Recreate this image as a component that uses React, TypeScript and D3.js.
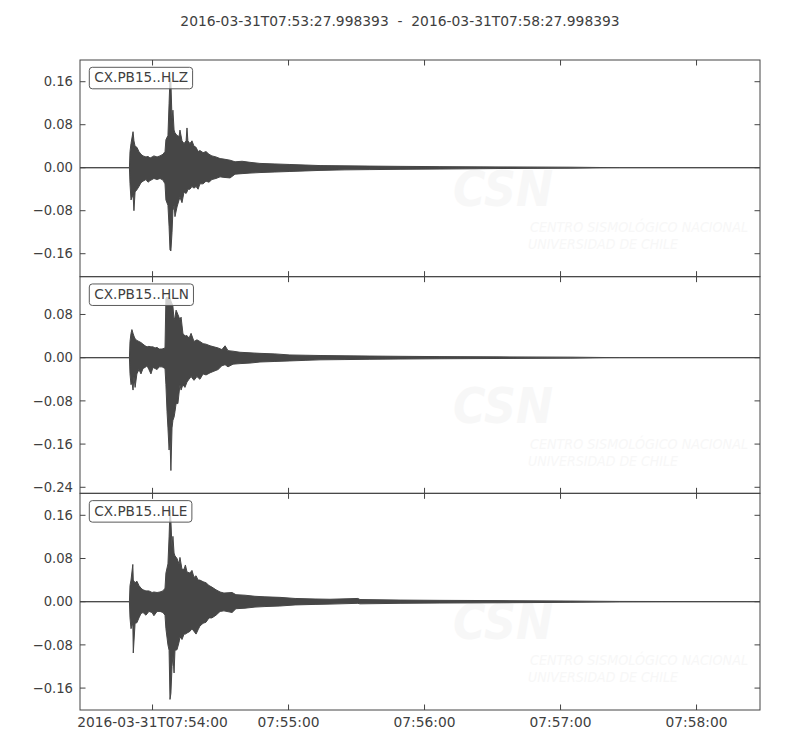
import React, { useEffect, useRef } from "react";
import * as d3 from "d3";

// ---------- data ----------
const titleText = "2016-03-31T07:53:27.998393  -  2016-03-31T07:58:27.998393";
const startTime = "2016-03-31T07:53:27.998Z";
const endTime = "2016-03-31T07:58:27.998Z";

const channelNames = ["CX.PB15..HLZ", "CX.PB15..HLN", "CX.PB15..HLE"];

const yDomains: [number, number][] = [
  [-0.2027, 0.2004],
  [-0.2512, 0.15],
  [-0.2006, 0.2007],
];

const yTickValues: number[][] = [
  [-0.16, -0.08, 0, 0.08, 0.16],
  [-0.24, -0.16, -0.08, 0, 0.08],
  [-0.16, -0.08, 0, 0.08, 0.16],
];

const xTickTimes = [
  "2016-03-31T07:54:00Z",
  "2016-03-31T07:55:00Z",
  "2016-03-31T07:56:00Z",
  "2016-03-31T07:57:00Z",
  "2016-03-31T07:58:00Z",
];
const xTickLabels = ["2016-03-31T07:54:00", "07:55:00", "07:56:00", "07:57:00", "07:58:00"];

// envelope: [seconds after start, max, min]
const hlzEnvelope: [number, number, number][] = [
  [0, 0, 0], [21.8, 0, 0], [22.06, 0.03, -0.03], [22.5, 0.045, -0.06], [23.4, 0.067, -0.05],
  [23.8, 0.05, -0.08], [24.3, 0.04, -0.045], [25.1, 0.038, -0.041], [26.0, 0.03, -0.035],
  [26.9, 0.025, -0.028], [27.8, 0.022, -0.025], [29.1, 0.02, -0.022], [30.0, 0.021, -0.027],
  [30.9, 0.018, -0.024], [31.8, 0.02, -0.022], [32.6, 0.022, -0.02], [34.0, 0.02, -0.022],
  [35.3, 0.022, -0.02], [36.6, 0.025, -0.023], [37.5, 0.03, -0.03], [37.9, 0.052, -0.06],
  [38.8, 0.06, -0.07], [39.3, 0.12, -0.11], [39.7, 0.167, -0.153], [40.1, 0.16, -0.155],
  [40.6, 0.09, -0.12], [41.0, 0.107, -0.08], [41.5, 0.07, -0.07], [41.9, 0.065, -0.091],
  [42.8, 0.06, -0.073], [43.7, 0.058, -0.06], [44.1, 0.07, -0.055], [45.0, 0.05, -0.065],
  [45.9, 0.045, -0.045], [46.8, 0.05, -0.048], [47.2, 0.074, -0.045], [47.6, 0.05, -0.04],
  [48.5, 0.045, -0.04], [49.4, 0.05, -0.035], [50.3, 0.04, -0.038], [51.2, 0.038, -0.035],
  [52.1, 0.03, -0.04], [52.9, 0.032, -0.03], [54.3, 0.028, -0.03], [55.6, 0.03, -0.025],
  [56.9, 0.025, -0.027], [58.2, 0.022, -0.022], [60.0, 0.02, -0.02], [61.8, 0.017, -0.017],
  [63.5, 0.016, -0.018], [66.2, 0.014, -0.019], [68.4, 0.011, -0.012], [71.5, 0.012, -0.011],
  [75.0, 0.01, -0.01], [79.4, 0.008, -0.009], [86.0, 0.007, -0.008], [92.6, 0.006, -0.007],
  [99.3, 0.005, -0.006], [105.9, 0.004, -0.005], [116.9, 0.0035, -0.004], [127.9, 0.003, -0.0035],
  [141.2, 0.0025, -0.003], [158.8, 0.002, -0.0025], [185.3, 0.0015, -0.0015], [216.2, 0.001, -0.001],
  [238.2, 0, 0], [300, 0, 0],
];

const hlnEnvelope: [number, number, number][] = [
  [0, 0, 0], [21.8, 0, 0], [22.06, 0.03, -0.03], [22.5, 0.045, -0.05], [22.9, 0.052, -0.045],
  [23.4, 0.045, -0.06], [23.8, 0.04, -0.035], [24.3, 0.035, -0.055], [25.1, 0.032, -0.03],
  [26.0, 0.03, -0.022], [26.9, 0.028, -0.03], [27.8, 0.025, -0.02], [28.7, 0.022, -0.018],
  [29.6, 0.02, -0.015], [30.4, 0.021, -0.022], [31.3, 0.02, -0.03], [32.2, 0.02, -0.018],
  [33.1, 0.018, -0.02], [34.0, 0.019, -0.022], [34.9, 0.016, -0.017], [36.2, 0.016, -0.017],
  [37.5, 0.018, -0.02], [37.9, 0.11, -0.05], [38.4, 0.112, -0.1], [38.8, 0.11, -0.13],
  [39.3, 0.112, -0.171], [39.7, 0.11, -0.15], [40.1, 0.105, -0.209], [40.6, 0.1, -0.13],
  [41.0, 0.095, -0.116], [41.5, 0.07, -0.11], [41.9, 0.075, -0.1], [42.4, 0.088, -0.085],
  [43.2, 0.08, -0.085], [44.1, 0.07, -0.05], [44.6, 0.075, -0.06], [45.4, 0.045, -0.05],
  [46.3, 0.04, -0.055], [47.2, 0.041, -0.045], [48.1, 0.036, -0.04], [49.0, 0.045, -0.035],
  [50.3, 0.03, -0.042], [51.6, 0.033, -0.035], [52.9, 0.03, -0.04], [54.3, 0.026, -0.03],
  [55.6, 0.025, -0.032], [57.4, 0.022, -0.028], [59.1, 0.02, -0.025], [60.9, 0.018, -0.022],
  [62.6, 0.015, -0.015], [64.0, 0.022, -0.013], [65.3, 0.013, -0.017], [67.5, 0.012, -0.012],
  [70.6, 0.01, -0.011], [75.0, 0.009, -0.01], [79.4, 0.008, -0.008], [86.0, 0.007, -0.007],
  [92.6, 0.005, -0.006], [99.3, 0.0045, -0.005], [105.9, 0.004, -0.004], [116.9, 0.0035, -0.0035],
  [127.9, 0.003, -0.003], [141.2, 0.0025, -0.0025], [158.8, 0.002, -0.002], [185.3, 0.0015, -0.0015],
  [216.2, 0.001, -0.001], [238.2, 0, 0], [300, 0, 0],
];

const hleEnvelope: [number, number, number][] = [
  [0, 0, 0], [21.8, 0, 0], [22.06, 0.03, -0.03], [22.5, 0.04, -0.05], [23.3, 0.069, -0.04],
  [23.5, 0.04, -0.095], [24.3, 0.035, -0.04], [25.1, 0.038, -0.039], [26.0, 0.03, -0.03],
  [26.9, 0.025, -0.022], [27.8, 0.022, -0.02], [29.1, 0.02, -0.025], [30.4, 0.02, -0.018],
  [31.8, 0.017, -0.02], [32.6, 0.018, -0.026], [34.0, 0.017, -0.018], [35.3, 0.018, -0.018],
  [36.6, 0.02, -0.02], [37.5, 0.025, -0.025], [37.9, 0.053, -0.05], [38.8, 0.07, -0.08],
  [39.3, 0.12, -0.09], [39.7, 0.17, -0.181], [40.1, 0.15, -0.17], [40.6, 0.1, -0.12],
  [41.0, 0.121, -0.1], [41.5, 0.09, -0.132], [41.9, 0.085, -0.09], [42.8, 0.08, -0.089],
  [43.7, 0.07, -0.075], [44.1, 0.082, -0.065], [45.0, 0.06, -0.07], [45.9, 0.06, -0.06],
  [46.5, 0.068, -0.06], [47.2, 0.055, -0.058], [48.5, 0.053, -0.055], [49.4, 0.058, -0.05],
  [50.3, 0.045, -0.055], [51.2, 0.048, -0.06], [52.1, 0.04, -0.052], [52.9, 0.04, -0.045],
  [54.3, 0.037, -0.04], [55.6, 0.035, -0.038], [56.9, 0.03, -0.03], [58.2, 0.027, -0.03],
  [60.0, 0.022, -0.025], [61.8, 0.018, -0.018], [63.5, 0.016, -0.017], [67.1, 0.017, -0.02],
  [68.8, 0.013, -0.013], [72.8, 0.012, -0.012], [77.2, 0.01, -0.01], [81.6, 0.009, -0.009],
  [88.2, 0.008, -0.008], [94.9, 0.006, -0.006], [103.7, 0.005, -0.005], [110.3, 0.0045, -0.0045],
  [122.6, 0.006, -0.003], [123.5, 0.004, -0.004], [141.2, 0.003, -0.003], [158.8, 0.0025, -0.0025],
  [185.3, 0.002, -0.002], [216.2, 0.0012, -0.0012], [238.2, 0.0005, -0.0005], [300, 0, 0],
];

const envelopes = [hlzEnvelope, hlnEnvelope, hleEnvelope];

const watermarkLines = ["CSN", "CENTRO SISMOLÓGICO NACIONAL", "UNIVERSIDAD DE CHILE"];

// ---------- layout ----------
const W = 800;
const H = 750;
const LEFT = 80;
const RIGHT = 760;
const TOP = 60;
const BOTTOM = 710;
const FONT = "'DejaVu Sans', sans-serif";
const TRACE = "#464646";
const AXIS = "#444444";
const TEXT = "#3f3f3f";

export default function App() {
  const ref = useRef<SVGSVGElement | null>(null);

  useEffect(() => {
    const svg = d3.select(ref.current);
    svg.selectAll("*").remove();

    svg.append("rect").attr("width", W).attr("height", H).attr("fill", "#ffffff");

    const t0 = new Date(startTime);
    const x = d3.scaleUtc().domain([t0, new Date(endTime)]).range([LEFT, RIGHT]);
    const tAt = (s: number) => new Date(t0.getTime() + s * 1000);

    svg
      .append("text")
      .attr("x", 400)
      .attr("y", 25.5)
      .attr("text-anchor", "middle")
      .attr("font-family", FONT)
      .attr("font-size", 13.85)
      .attr("fill", TEXT)
      .attr("xml:space", "preserve")
      .style("white-space", "pre")
      .text(titleText);

    const ph = (BOTTOM - TOP) / channelNames.length;
    const fmt = d3.format(".2f");

    channelNames.forEach((name, i) => {
      const top = TOP + i * ph;
      const bot = top + ph;
      const y = d3.scaleLinear().domain(yDomains[i]).range([bot, top]);
      const g = svg.append("g");

      const clipId = `clip-${i}`;
      g.append("clipPath")
        .attr("id", clipId)
        .append("rect")
        .attr("x", LEFT)
        .attr("y", top)
        .attr("width", RIGHT - LEFT)
        .attr("height", ph);

      // faint watermark
      const wm = g.append("g").attr("fill", "#f7f7f7").attr("font-family", FONT).attr("font-style", "italic");
      wm.append("text")
        .attr("x", 453)
        .attr("y", top + 146)
        .attr("font-size", 50)
        .attr("font-weight", "bold")
        .attr("textLength", 100)
        .attr("lengthAdjust", "spacingAndGlyphs")
        .text(watermarkLines[0]);
      wm.append("text")
        .attr("x", 530)
        .attr("y", top + 172)
        .attr("font-size", 14)
        .attr("textLength", 218)
        .attr("lengthAdjust", "spacingAndGlyphs")
        .text(watermarkLines[1]);
      wm.append("text")
        .attr("x", 528)
        .attr("y", top + 189)
        .attr("font-size", 14)
        .attr("textLength", 150)
        .attr("lengthAdjust", "spacingAndGlyphs")
        .text(watermarkLines[2]);

      // trace
      const area = d3
        .area<[number, number, number]>()
        .x((d) => x(tAt(d[0])))
        .y0((d) => y(d[2]))
        .y1((d) => y(d[1]));
      g.append("path")
        .attr("clip-path", `url(#${clipId})`)
        .attr("d", area(envelopes[i]) as string)
        .attr("fill", TRACE)
        .attr("stroke", TRACE)
        .attr("stroke-width", 1)
        .attr("stroke-linejoin", "miter");

      // label box
      const lbl = g.append("g");
      const txt = lbl
        .append("text")
        .attr("x", LEFT + 14.3)
        .attr("y", top + 22.2)
        .attr("font-family", FONT)
        .attr("font-size", 13.6)
        .attr("fill", TEXT)
        .text(name);
      const node = txt.node() as SVGTextElement;
      const tw = node.getComputedTextLength();
      lbl.insert("rect", "text")
        .attr("x", LEFT + 9.3)
        .attr("y", top + 7.3)
        .attr("width", tw + 9.6)
        .attr("height", 21.5)
        .attr("rx", 3)
        .attr("ry", 3)
        .attr("fill", "#ffffff")
        .attr("fill-opacity", 0.75)
        .attr("stroke", "#5a5a5a")
        .attr("stroke-width", 1);

      // frame
      g.append("rect")
        .attr("x", LEFT)
        .attr("y", top)
        .attr("width", RIGHT - LEFT)
        .attr("height", ph)
        .attr("fill", "none")
        .attr("stroke", AXIS)
        .attr("stroke-width", 1);

      const TL = 5.5;
      // y ticks
      yTickValues[i].forEach((v) => {
        const yy = y(v);
        g.append("line").attr("x1", LEFT).attr("x2", LEFT + TL).attr("y1", yy).attr("y2", yy).attr("stroke", AXIS);
        g.append("line").attr("x1", RIGHT).attr("x2", RIGHT - TL).attr("y1", yy).attr("y2", yy).attr("stroke", AXIS);
        g.append("text")
          .attr("x", LEFT - 7)
          .attr("y", yy + 4.7)
          .attr("text-anchor", "end")
          .attr("font-family", FONT)
          .attr("font-size", 13.2)
          .attr("fill", TEXT)
          .text(fmt(v));
      });

      // x ticks
      xTickTimes.forEach((ts) => {
        const xx = x(new Date(ts));
        g.append("line").attr("x1", xx).attr("x2", xx).attr("y1", bot).attr("y2", bot - TL).attr("stroke", AXIS);
        g.append("line").attr("x1", xx).attr("x2", xx).attr("y1", top).attr("y2", top + TL).attr("stroke", AXIS);
      });

      if (i === channelNames.length - 1) {
        xTickTimes.forEach((ts, k) => {
          g.append("text")
            .attr("x", x(new Date(ts)))
            .attr("y", bot + 17)
            .attr("text-anchor", "middle")
            .attr("font-family", FONT)
            .attr("font-size", 13.8)
            .attr("fill", TEXT)
            .text(xTickLabels[k]);
        });
      }
    });
  }, []);

  return (
    <svg
      ref={ref}
      width={W}
      height={H}
      style={{ position: "absolute", left: 0, top: 0, display: "block" }}
    />
  );
}
